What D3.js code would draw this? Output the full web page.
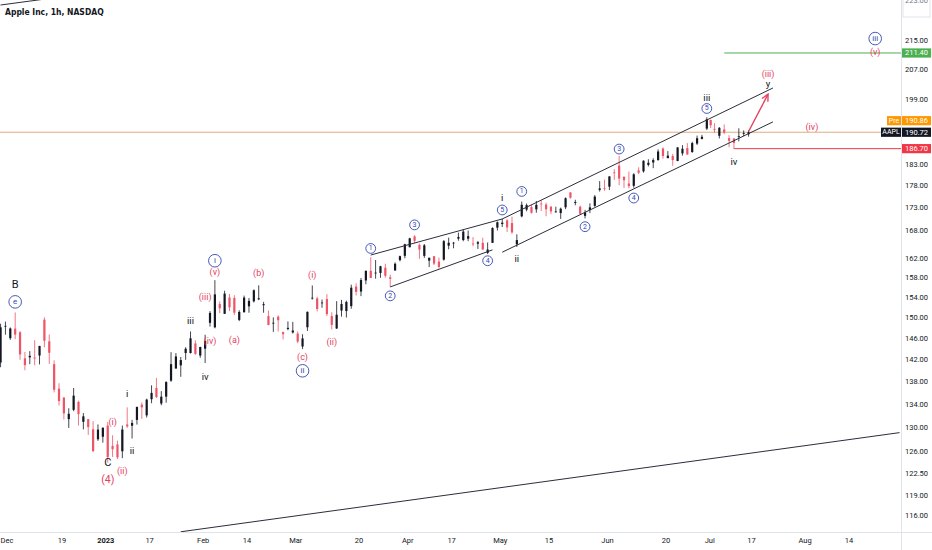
<!DOCTYPE html>
<html>
<head>
<meta charset="utf-8">
<script src="https://cdn.jsdelivr.net/npm/d3@7"></script>
<style>
  body { margin: 0; background: #fff; }
  svg { display: block; font-family: Roboto, "Noto Sans", sans-serif; opacity: 0.999; }
</style>
</head>
<body>
<svg id="chart" width="932" height="550"></svg>
<script>
// AAPL candles, one row per session: [day, open, high, low, close]
const nov22 = [[30, 141.40, 148.72, 140.55, 148.03]];
const dec22 = [
  [1, 148.21, 149.13, 146.61, 148.31], [2, 145.96, 148.00, 145.65, 147.81], [5, 147.77, 150.92, 145.77, 146.63],
  [6, 147.07, 147.30, 141.92, 142.91], [7, 142.19, 143.37, 140.00, 140.94], [8, 142.36, 143.52, 141.10, 142.65],
  [9, 142.34, 145.57, 140.90, 142.16], [12, 142.70, 144.50, 141.06, 144.49], [13, 149.50, 149.97, 144.24, 145.47],
  [14, 145.35, 146.66, 141.16, 143.21], [15, 141.11, 141.80, 136.03, 136.50], [16, 136.69, 137.65, 133.73, 134.51],
  [19, 135.11, 135.20, 131.32, 132.37], [20, 131.39, 133.25, 129.89, 132.30], [21, 132.98, 136.81, 132.75, 135.45],
  [22, 134.35, 134.56, 130.30, 132.23], [23, 130.92, 132.42, 129.64, 131.86], [27, 131.38, 131.41, 128.72, 130.03],
  [28, 129.67, 131.03, 125.87, 126.04], [29, 127.99, 130.48, 127.73, 129.61], [30, 128.41, 129.95, 127.43, 129.93]
];
const jan23 = [
  [3, 130.28, 130.90, 124.17, 125.07], [4, 126.89, 128.66, 125.08, 126.36], [5, 127.13, 127.77, 124.76, 125.02],
  [6, 126.01, 130.29, 124.89, 129.62], [9, 130.47, 133.41, 129.89, 130.15], [10, 130.26, 131.26, 128.12, 130.73],
  [11, 131.25, 133.51, 130.46, 133.49], [12, 133.88, 134.26, 131.44, 133.41], [13, 132.03, 134.92, 131.66, 134.76],
  [17, 134.83, 137.29, 134.13, 135.94], [18, 136.82, 138.61, 135.03, 135.21], [19, 134.08, 136.25, 133.77, 135.27],
  [20, 135.28, 138.02, 134.22, 137.87], [23, 138.12, 143.32, 137.90, 141.11], [24, 140.31, 143.16, 140.30, 142.53],
  [25, 140.89, 142.43, 138.81, 141.86], [26, 143.17, 144.25, 141.90, 143.96], [27, 143.16, 147.23, 143.08, 145.93],
  [30, 144.96, 145.55, 142.85, 143.00], [31, 142.70, 144.34, 142.28, 144.29]
];
const feb23 = [
  [1, 143.97, 146.61, 141.32, 145.43], [2, 148.90, 151.18, 148.17, 150.82], [3, 148.03, 157.38, 147.83, 154.50],
  [6, 152.57, 153.10, 150.78, 151.73], [7, 150.64, 155.23, 150.64, 154.65], [8, 153.88, 154.58, 151.17, 151.92],
  [9, 153.78, 154.33, 150.42, 150.87], [10, 149.46, 151.34, 149.22, 151.01], [13, 150.95, 154.26, 150.92, 153.85],
  [14, 152.12, 153.77, 150.86, 153.20], [15, 153.11, 155.50, 152.88, 155.33], [16, 153.51, 156.33, 153.35, 153.71],
  [17, 152.35, 153.00, 150.85, 152.55], [21, 150.20, 151.30, 148.41, 148.48], [22, 148.87, 149.95, 147.16, 148.91],
  [23, 150.09, 150.34, 147.24, 149.40], [24, 147.11, 147.19, 145.72, 146.71], [27, 147.71, 149.17, 147.45, 147.92],
  [28, 147.05, 149.08, 146.83, 147.41]
];
const mar23 = [
  [1, 146.83, 147.23, 145.01, 145.31], [2, 144.38, 146.71, 143.90, 145.91], [3, 148.04, 151.11, 147.33, 151.03],
  [6, 153.79, 156.30, 153.46, 153.83], [7, 153.70, 154.03, 151.13, 151.60], [8, 152.81, 153.47, 151.83, 152.87],
  [9, 153.56, 154.54, 150.23, 150.59], [10, 150.21, 150.94, 147.61, 148.50], [13, 147.81, 153.14, 147.70, 150.47],
  [14, 151.28, 153.40, 150.10, 152.59], [15, 151.19, 153.25, 149.92, 152.99], [16, 152.16, 156.46, 151.64, 155.85],
  [17, 156.08, 156.74, 154.28, 155.00], [20, 155.07, 157.82, 154.15, 157.40], [21, 157.32, 159.40, 156.54, 159.28],
  [22, 159.30, 162.14, 157.81, 157.83], [23, 158.83, 161.55, 157.68, 158.93], [24, 158.86, 160.34, 157.85, 160.25],
  [27, 159.94, 160.77, 157.87, 158.28], [28, 157.97, 158.49, 155.98, 157.65], [29, 159.37, 161.05, 159.35, 160.77],
  [30, 161.53, 162.47, 161.27, 162.36], [31, 162.44, 165.00, 161.91, 164.90]
];
const apr23 = [
  [3, 164.27, 166.29, 164.22, 166.17], [4, 166.60, 166.84, 165.11, 165.63], [5, 164.74, 165.05, 161.80, 163.76],
  [6, 162.43, 164.96, 162.00, 164.66], [10, 161.42, 162.03, 160.08, 162.03], [11, 162.35, 162.36, 160.51, 160.80],
  [12, 161.22, 162.06, 159.78, 160.10], [13, 161.63, 165.80, 161.42, 165.56], [14, 164.59, 166.32, 163.82, 165.21],
  [17, 165.09, 165.39, 164.03, 165.23], [18, 166.10, 167.41, 165.65, 166.47], [19, 165.80, 168.16, 165.54, 167.63],
  [20, 166.09, 167.87, 165.56, 166.65], [21, 165.05, 166.45, 164.49, 165.02], [24, 165.00, 165.60, 163.89, 165.33],
  [25, 165.19, 166.31, 163.73, 163.77], [26, 163.06, 165.28, 162.80, 163.76], [27, 165.19, 168.56, 165.19, 168.41],
  [28, 168.49, 169.85, 167.88, 169.68]
];
const may23 = [
  [1, 169.28, 170.45, 168.64, 169.59], [2, 170.09, 170.35, 167.54, 168.54], [3, 169.50, 170.92, 167.16, 167.45],
  [4, 164.89, 167.04, 164.31, 165.79], [5, 170.98, 174.30, 170.76, 173.57], [8, 172.48, 173.85, 172.11, 173.50],
  [9, 173.05, 173.54, 171.60, 171.77], [10, 172.55, 174.43, 171.79, 173.56], [11, 173.85, 174.59, 172.17, 173.75],
  [12, 173.62, 174.06, 171.00, 172.57], [15, 173.16, 173.21, 171.47, 172.07], [16, 171.99, 173.14, 171.80, 172.07],
  [17, 171.71, 172.93, 170.42, 172.69], [18, 173.00, 175.24, 172.58, 175.05], [19, 176.39, 176.39, 174.94, 175.16],
  [22, 173.98, 174.71, 173.45, 174.20], [23, 173.13, 173.38, 171.28, 171.56], [24, 171.09, 172.42, 170.52, 171.84],
  [25, 172.41, 173.90, 171.69, 172.99], [26, 173.32, 175.77, 173.11, 175.43], [30, 176.96, 178.99, 176.57, 177.30],
  [31, 177.33, 179.35, 176.76, 177.25]
];
const jun23 = [
  [1, 177.70, 180.12, 176.93, 180.09], [2, 181.03, 181.78, 179.26, 180.95], [5, 182.63, 184.95, 178.04, 179.58],
  [6, 179.97, 180.12, 177.43, 179.21], [7, 178.44, 181.21, 177.32, 177.82], [8, 177.90, 180.84, 177.46, 180.57],
  [9, 181.50, 182.23, 180.63, 180.96], [12, 181.27, 183.89, 180.97, 183.79], [13, 182.80, 184.15, 182.44, 183.31],
  [14, 183.37, 184.39, 182.02, 183.95], [15, 183.96, 186.52, 183.78, 186.01], [16, 186.73, 186.99, 184.27, 184.92],
  [20, 184.41, 186.10, 184.41, 185.01], [21, 184.90, 185.41, 182.59, 183.96], [22, 183.74, 187.05, 183.67, 187.00],
  [23, 185.55, 187.56, 185.01, 186.68], [26, 186.83, 188.05, 185.23, 185.27], [27, 185.89, 188.39, 185.67, 188.06],
  [28, 187.93, 189.90, 187.60, 189.25], [29, 189.08, 190.07, 188.94, 189.59], [30, 191.63, 194.48, 191.26, 193.97]
];
const jul23 = [
  [3, 193.78, 193.88, 191.76, 192.46], [5, 191.57, 192.98, 190.62, 191.33], [6, 189.84, 192.02, 189.20, 191.81],
  [7, 191.41, 192.67, 190.24, 190.68], [10, 189.26, 189.99, 187.04, 188.61], [11, 189.16, 189.30, 186.60, 188.08],
  [12, 189.68, 191.70, 188.47, 189.77], [13, 190.50, 191.19, 189.78, 190.54], [14, 190.23, 191.18, 189.63, 190.72]
];
const monthRows = [["2022-11", nov22], ["2022-12", dec22], ["2023-01", jan23], ["2023-02", feb23], ["2023-03", mar23],
  ["2023-04", apr23], ["2023-05", may23], ["2023-06", jun23], ["2023-07", jul23]];

// market calendar (1h bars: 7 per session, 4 on half days)
const holidays = ["2022-12-26", "2023-01-02", "2023-01-16", "2023-02-20", "2023-04-07", "2023-05-29", "2023-06-19", "2023-07-04", "2023-09-04"];
const halfDays = ["2023-07-03"];

// axis labels
const xTickDates = ["2022-12-01", "2022-12-19", "2023-01-03", "2023-01-17", "2023-02-01", "2023-02-14", "2023-03-01", "2023-03-20",
  "2023-04-03", "2023-04-17", "2023-05-01", "2023-05-15", "2023-06-01", "2023-06-20", "2023-07-03", "2023-07-17", "2023-08-01", "2023-08-14"];
const xTickLabels = ["Dec", "19", "2023", "17", "Feb", "14", "Mar", "20", "Apr", "17", "May", "15", "Jun", "20", "Jul", "17", "Aug", "14"];
const yTicks = [215, 207, 199, 183, 178, 173, 168, 162, 158, 154, 150, 146, 142, 138, 134, 130, 126, 122.5, 119, 116];

// wave counts: [text, date, price]
const blackLabels = [["B", "2022-12-05", 156.4], ["C", "2023-01-03", 124.2], ["i", "2023-01-09", 135.9], ["ii", "2023-01-10", 126.1],
  ["iii", "2023-01-27", 149.4], ["iv", "2023-02-01", 138.8], ["i", "2023-05-01", 175.3], ["ii", "2023-05-04", 161.9],
  ["iii", "2023-06-30", 199.6], ["iv", "2023-07-11", 183.7], ["y", "2023-07-20", 203.1]];
const redLabels = [["(4)", "2023-01-03", 121.5], ["(i)", "2023-01-04", 130.9], ["(ii)", "2023-01-06", 122.9], ["(iii)", "2023-02-01", 154.0],
  ["(iv)", "2023-02-02", 145.4], ["(v)", "2023-02-03", 159.0], ["(a)", "2023-02-09", 145.6], ["(b)", "2023-02-16", 158.8],
  ["(c)", "2023-03-02", 142.4], ["(i)", "2023-03-06", 158.5], ["(ii)", "2023-03-10", 145.3], ["(iii)", "2023-07-20", 205.7],
  ["(iv)", "2023-08-02", 191.9], ["(v)", "2023-08-21", 211.6]];
const circleLabels = [["e", "2022-12-05", 153.0], ["i", "2023-02-03", 161.4], ["ii", "2023-03-02", 139.9],
  ["1", "2023-03-22", 164.0], ["2", "2023-03-28", 154.2], ["3", "2023-04-04", 169.1], ["4", "2023-04-26", 161.4], ["5", "2023-05-01", 172.4],
  ["1", "2023-05-05", 176.6], ["2", "2023-05-24", 168.7], ["3", "2023-06-05", 186.6], ["4", "2023-06-08", 175.1], ["5", "2023-06-30", 196.7],
  ["iii", "2023-08-21", 215.4]];

// trend lines: [date1, price1, date2, price2]
const trendLines = [
  ["2022-11-30", 225.0, "2022-12-16", 227.3],
  ["2023-01-25", 113.5, "2023-08-28", 129.1],
  ["2023-03-22", 162.6, "2023-05-01", 170.4],
  ["2023-03-28", 156.0, "2023-04-27", 163.7],
  ["2023-05-01", 170.4, "2023-07-21", 202.0],
  ["2023-05-01", 163.2, "2023-07-21", 193.3]
];
const projection = ["2023-07-14", 190.9, "2023-07-20", 200.4];

// horizontal levels
const levelPrices = [211.40, 190.72, 186.70];
const levelStart = ["2023-07-07", null, "2023-07-11"];
const preMarket = 190.86;

const upColor = "#131722", downColor = "#ef5466", red = "#e5405e", blue = "#3346b0";

// ---- calendar -> bar index
const holidaySet = new Set(holidays), halfSet = new Set(halfDays);
const fmt = d3.utcFormat("%Y-%m-%d");
const barStart = new Map(), barCount = new Map();
let bar = 0;
for (let d = new Date(Date.UTC(2022, 10, 30)); d <= new Date(Date.UTC(2023, 8, 29)); d.setUTCDate(d.getUTCDate() + 1)) {
  const s = fmt(d), wd = d.getUTCDay();
  if (wd === 0 || wd === 6 || holidaySet.has(s)) continue;
  const n = halfSet.has(s) ? 4 : 7;
  barStart.set(s, bar); barCount.set(s, n); bar += n;
}

const candles = monthRows.flatMap(([m, rows]) => rows.map(r => ({
  date: `${m}-${String(r[0]).padStart(2, "0")}`, o: r[1], h: r[2], l: r[3], c: r[4]
})));

const plotW = 901, plotH = 532;
const x = d3.scaleLinear()
  .domain([barStart.get("2022-12-01"), barStart.get("2023-07-17")])
  .range([3, 751]);
const y = d3.scaleLog().domain([215, 116]).range([40, 515]);
const xMid = s => x(barStart.get(s) + barCount.get(s) / 2);

const svg = d3.select("#chart");
const defs = svg.append("defs");
defs.append("clipPath").attr("id", "plot").append("rect").attr("width", plotW).attr("height", plotH);
defs.append("marker").attr("id", "arrow").attr("viewBox", "0 0 10 10").attr("refX", 9).attr("refY", 5)
  .attr("markerWidth", 6).attr("markerHeight", 6).attr("orient", "auto")
  .append("path").attr("d", "M1,1L9,5L1,9").attr("fill", "none").attr("stroke", red).attr("stroke-width", 1.6);

svg.append("rect").attr("width", 932).attr("height", 550).attr("fill", "#fff");

const plot = svg.append("g").attr("clip-path", "url(#plot)");

// horizontal levels
const levelColors = ["#4caf50", "#e3ab7f", "#f23645"];
plot.selectAll("line.level").data(levelPrices).join("line")
  .attr("class", "level")
  .attr("x1", (d, i) => levelStart[i] ? xMid(levelStart[i]) : 0)
  .attr("x2", plotW)
  .attr("y1", d => y(d)).attr("y2", d => y(d))
  .attr("stroke", (d, i) => levelColors[i]).attr("stroke-width", 1);

// candles
plot.selectAll("line.wick").data(candles).join("line")
  .attr("class", "wick")
  .attr("x1", d => xMid(d.date)).attr("x2", d => xMid(d.date))
  .attr("y1", d => y(d.h)).attr("y2", d => y(d.l))
  .attr("stroke", d => d.c >= d.o ? upColor : downColor).attr("stroke-width", 0.8);
plot.selectAll("rect.body").data(candles).join("rect")
  .attr("class", "body")
  .attr("x", d => xMid(d.date) - 1.1).attr("width", 2.2)
  .attr("y", d => y(Math.max(d.o, d.c)))
  .attr("height", d => Math.max(0.8, Math.abs(y(d.o) - y(d.c))))
  .attr("fill", d => d.c >= d.o ? upColor : downColor);

// trend lines
plot.selectAll("line.trend").data(trendLines).join("line")
  .attr("class", "trend")
  .attr("x1", d => xMid(d[0])).attr("y1", d => y(d[1]))
  .attr("x2", d => xMid(d[2])).attr("y2", d => y(d[3]))
  .attr("stroke", "#2a2e39").attr("stroke-width", 1);

plot.append("line")
  .attr("x1", xMid(projection[0])).attr("y1", y(projection[1]))
  .attr("x2", xMid(projection[2])).attr("y2", y(projection[3]))
  .attr("stroke", red).attr("stroke-width", 1.4).attr("marker-end", "url(#arrow)");

// wave labels
plot.selectAll("text.blk").data(blackLabels).join("text")
  .attr("class", "blk")
  .attr("x", d => xMid(d[1])).attr("y", d => y(d[2]))
  .attr("text-anchor", "middle").attr("dominant-baseline", "central")
  .attr("font-size", d => (d[0] === "B" || d[0] === "C") ? 11 : 9.5)
  .attr("fill", "#131722")
  .text(d => d[0]);

plot.selectAll("text.red").data(redLabels).join("text")
  .attr("class", "red")
  .attr("x", d => xMid(d[1])).attr("y", d => y(d[2]))
  .attr("text-anchor", "middle").attr("dominant-baseline", "central")
  .attr("font-size", d => d[0] === "(4)" ? 10.5 : 9)
  .attr("fill", red)
  .text(d => d[0]);

const circ = plot.selectAll("g.circ").data(circleLabels).join("g")
  .attr("class", "circ")
  .attr("transform", d => `translate(${xMid(d[1])},${y(d[2])})`);
circ.append("circle")
  .attr("r", d => /\d/.test(d[0]) ? 4.9 : 6.3)
  .attr("fill", "#fff").attr("stroke", blue).attr("stroke-width", 0.9);
circ.append("text")
  .attr("text-anchor", "middle").attr("dominant-baseline", "central")
  .attr("font-size", d => /\d/.test(d[0]) ? 7 : 8)
  .attr("fill", blue)
  .text(d => d[0]);

// title
svg.append("text").attr("x", 5).attr("y", 15)
  .attr("font-family", "'Liberation Sans Narrow', 'DejaVu Sans Condensed', sans-serif")
  .attr("font-size", 8.5).attr("font-weight", 600).attr("fill", "#131722")
  .text("Apple Inc, 1h, NASDAQ");

// separators
svg.append("line").attr("x1", plotW + 0.5).attr("x2", plotW + 0.5).attr("y1", 0).attr("y2", 550).attr("stroke", "#e0e3eb");
svg.append("line").attr("x1", 0).attr("x2", 932).attr("y1", plotH + 0.5).attr("y2", plotH + 0.5).attr("stroke", "#e0e3eb");

// right axis
const yAxis = svg.append("g").attr("transform", `translate(${plotW},0)`)
  .call(d3.axisRight(y).tickValues(yTicks).tickFormat(d3.format(".2f")).tickSize(0).tickPadding(4));
yAxis.select(".domain").remove();
yAxis.selectAll("text").attr("font-size", 7.5).attr("fill", "#131722").attr("font-family", "Roboto, sans-serif");

// ghost label at the top of the scale
svg.append("rect").attr("x", 903).attr("y", -3).attr("width", 27).attr("height", 20)
  .attr("fill", "#fff").attr("stroke", "#e0e3eb");
svg.append("text").attr("x", 905).attr("y", 3).attr("font-size", 7.5).attr("fill", "#787b86").text("223.00");

// bottom axis
const xAxis = svg.append("g").attr("transform", `translate(0,${plotH})`)
  .call(d3.axisBottom(x).tickValues(xTickDates.map(d => barStart.get(d)))
    .tickFormat((d, i) => xTickLabels[i]).tickSize(0).tickPadding(6));
xAxis.select(".domain").remove();
xAxis.selectAll("text").attr("font-size", 7.5).attr("fill", "#131722").attr("font-family", "Roboto, sans-serif")
  .attr("font-weight", (d, i) => xTickLabels[i] === "2023" ? 700 : 400)
  .attr("text-anchor", (d, i) => i === 0 ? "start" : "middle")
  .attr("dx", (d, i) => i === 0 ? -3 : 0);

// price tags
const tags = [
  { v: preMarket, text: preMarket.toFixed(2), left: "Pre", fill: "#ff9800", shift: -11 },
  { v: levelPrices[1], text: levelPrices[1].toFixed(2), left: "AAPL", fill: "#131722", shift: 0 },
  { v: levelPrices[0], text: levelPrices[0].toFixed(2), left: null, fill: "#4caf50", shift: 0 },
  { v: levelPrices[2], text: levelPrices[2].toFixed(2), left: null, fill: "#f23645", shift: 0 }
];
tags.forEach(t => {
  const cy = y(t.v) + t.shift;
  svg.append("rect").attr("x", plotW + 1).attr("y", cy - 4.6).attr("width", 29).attr("height", 9.2).attr("fill", t.fill);
  svg.append("text").attr("x", plotW + 4).attr("y", cy).attr("dominant-baseline", "central")
    .attr("font-size", 7.5).attr("fill", "#fff").text(t.text);
  if (t.left) {
    const w = t.left === "Pre" ? 14 : 20;
    svg.append("rect").attr("x", plotW - w).attr("y", cy - 4.6).attr("width", w).attr("height", 9.2).attr("fill", t.fill);
    svg.append("text").attr("x", plotW - w / 2).attr("y", cy).attr("text-anchor", "middle").attr("dominant-baseline", "central")
      .attr("font-size", 7).attr("fill", "#fff").text(t.left);
  }
});
</script>
</body>
</html>
